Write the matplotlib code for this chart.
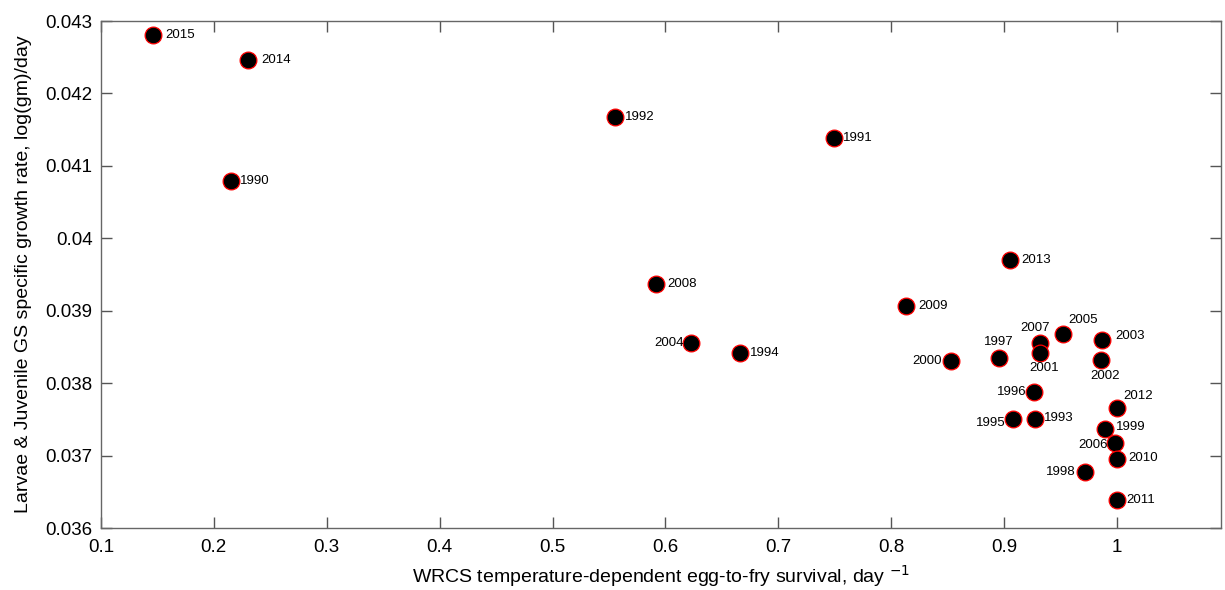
import matplotlib
matplotlib.use("Agg")
import matplotlib.pyplot as plt

# -----------------------------
# Data
# -----------------------------
years = [2015, 2014, 1990, 1992, 1991, 2013, 2008, 2009, 2004, 1994,
         2000, 1997, 2007, 2001, 2005, 2003, 2002, 1996, 2012, 1995,
         1993, 1999, 2006, 2010, 1998, 2011]

survival = [0.146, 0.230, 0.215, 0.555, 0.749, 0.905, 0.592, 0.813, 0.623, 0.666,
            0.853, 0.895, 0.932, 0.932, 0.952, 0.987, 0.986, 0.926, 1.000, 0.908,
            0.927, 0.989, 0.998, 1.000, 0.972, 1.000]

growth = [0.04281, 0.04246, 0.04079, 0.04168, 0.04139, 0.03970, 0.03937, 0.03906, 0.03855, 0.03842,
          0.03830, 0.03835, 0.03855, 0.03842, 0.03868, 0.03859, 0.03832, 0.03788, 0.03766, 0.03750,
          0.03750, 0.03737, 0.03718, 0.03696, 0.03677, 0.03639]

# label placement: (dx, dy, ha) in pixels
label_pos = {
    2015: (12, 0, "left"), 2014: (14, 0, "left"), 1990: (9, 0, "left"),
    1992: (10, 0, "left"), 1991: (9, 0, "left"), 2013: (11, 0, "left"),
    2008: (11, 0, "left"), 2009: (12, 0, "left"), 2004: (-8, 0, "right"),
    1994: (10, 0, "left"), 2000: (-9, 0, "right"), 1997: (0, 16, "center"),
    2007: (-5, 15, "center"), 2001: (4, -15, "center"), 2005: (20, 14, "center"),
    2003: (13, 4, "left"), 2002: (4, -16, "center"), 1996: (-7, 0, "right"),
    2012: (6, 12, "left"), 1995: (-8, -4, "right"), 1993: (9, 1, "left"),
    1999: (11, 2, "left"), 2006: (-7, -2, "right"), 2010: (11, 1, "left"),
    1998: (-10, 0, "right"), 2011: (9, 0, "left"),
}

plt.rcParams["font.family"] = ["Liberation Sans", "DejaVu Sans"]

fig = plt.figure(figsize=(12.25, 5.9), dpi=100)
ax = fig.add_axes([0.0824, 0.105, 0.9143, 0.8594])

ax.scatter(survival, growth, s=145, c="black", edgecolors="red",
           linewidths=0.9, zorder=3)

for yr, xv, yv in zip(years, survival, growth):
    dx, dy, ha = label_pos[yr]
    ax.annotate(str(yr), (xv, yv), xytext=(dx, dy), textcoords="offset pixels",
                ha=ha, va="center", fontsize=9.5, color="black", zorder=4)

ax.set_xlim(0.1, 1.092)
ax.set_ylim(0.036, 0.043)
ax.set_xticks([0.1, 0.2, 0.3, 0.4, 0.5, 0.6, 0.7, 0.8, 0.9, 1.0])
ax.set_xticklabels(["0.1", "0.2", "0.3", "0.4", "0.5", "0.6", "0.7", "0.8", "0.9", "1"])
ax.set_yticks([0.036, 0.037, 0.038, 0.039, 0.04, 0.041, 0.042, 0.043])
ax.set_yticklabels(["0.036", "0.037", "0.038", "0.039", "0.04", "0.041", "0.042", "0.043"])

ax.tick_params(direction="in", length=8, width=1, colors="#555555",
               labelcolor="black", labelsize=13.5, top=True, right=True)
ax.tick_params(axis="x", pad=8)
ax.tick_params(axis="y", pad=6)

for sp in ax.spines.values():
    sp.set_color("#666666")
    sp.set_linewidth(1.0)

ax.set_xlabel("WRCS temperature-dependent egg-to-fry survival, day $^{-1}$",
              fontsize=14, labelpad=5)
ax.set_ylabel("Larvae & Juvenile GS specific growth rate, log(gm)/day",
              fontsize=14, labelpad=10)

fig.savefig("out.png", dpi=100, facecolor="white")
